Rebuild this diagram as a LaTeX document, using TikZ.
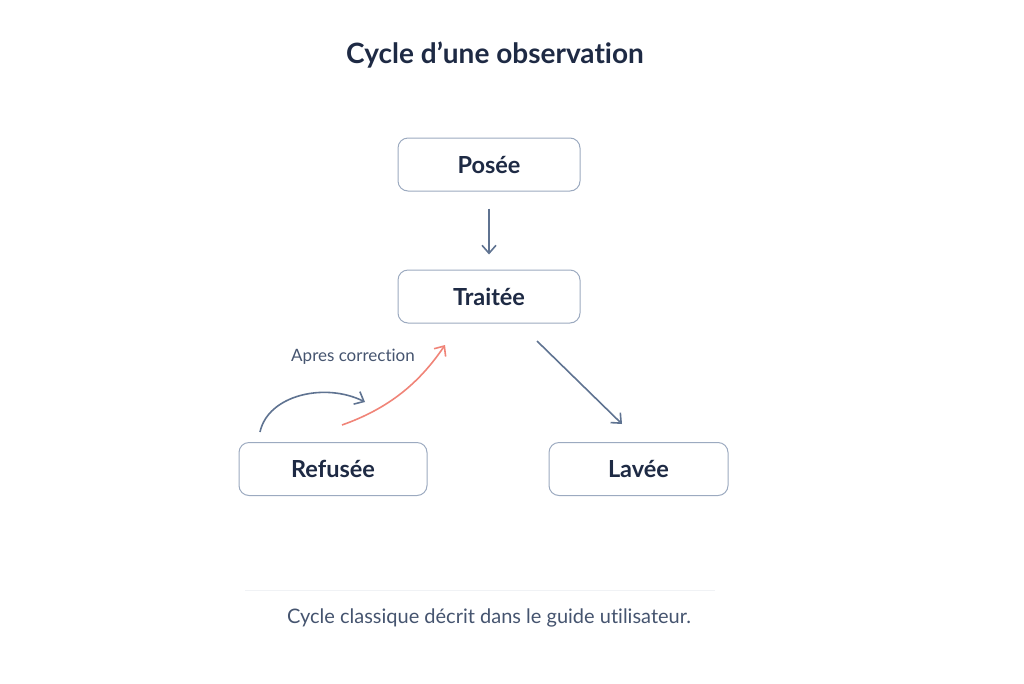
\documentclass[tikz,border=0pt]{standalone}
\usepackage{fontspec}
\setmainfont{Lato}[Ligatures=NoCommon]
\usetikzlibrary{arrows.meta}
\definecolor{ink}{HTML}{1E2A44}
\definecolor{boxline}{HTML}{9CAAC0}
\definecolor{arrowc}{HTML}{5F7391}
\definecolor{redc}{HTML}{F08478}
\definecolor{capc}{HTML}{45546F}
\definecolor{sepc}{HTML}{F0F2F5}
\tikzset{
  statebox/.style={draw=boxline, line width=1pt, rounded corners=10pt, fill=white,
    text=ink, font=\fontsize{23.5}{28}\selectfont\bfseries, minimum height=53pt, inner sep=0pt},
  flow/.style={draw=arrowc, line width=1.6pt, -{Straight Barb[length=8pt,width=14pt]}},
  redflow/.style={draw=redc, line width=1.6pt, -{Straight Barb[length=8pt,width=14pt]}},
}
\begin{document}
\begin{tikzpicture}[x=1pt,y=-1pt]
\useasboundingbox (0,0) rectangle (1024,683);
\node[text=ink, font=\fontsize{28}{34}\selectfont\bfseries] (title) at (495,55) {Cycle d’une observation};
\node[statebox, minimum width=182pt] (posee) at (489,164.5) {Posée};
\node[statebox, minimum width=182pt] (traitee) at (489,296.5) {Traitée};
\node[statebox, minimum width=188pt] (refusee) at (333,469) {Refusée};
\node[statebox, minimum width=179pt] (lavee) at (638.5,469) {Lavée};
\draw[flow] ([yshift=-17pt]posee.south) -- ([yshift=15pt]traitee.north);
\coordinate (tl1) at (537,341);
\coordinate (tl2) at (622,424);
\draw[flow] (tl1) -- (tl2);
\coordinate (b1) at (260,432);
\coordinate (b2) at (365,402);
\draw[flow] (b1) .. controls (268,395) and (325,382) .. (b2);
\coordinate (r1) at (342,425);
\coordinate (r2) at (445,345);
\draw[redflow] (r1) .. controls (390,408) and (420,382) .. (r2);
\node[text=capc, font=\fontsize{17}{20}\selectfont] (lbl) at (353,357) {Apres correction};
\coordinate (s1) at (245,590);
\coordinate (s2) at (715,590);
\draw[sepc, line width=1pt] (s1) -- (s2);
\node[text=capc, font=\fontsize{20}{24}\selectfont] (cap) at (489,618) {Cycle classique décrit dans le guide utilisateur.};
\end{tikzpicture}
\end{document}
